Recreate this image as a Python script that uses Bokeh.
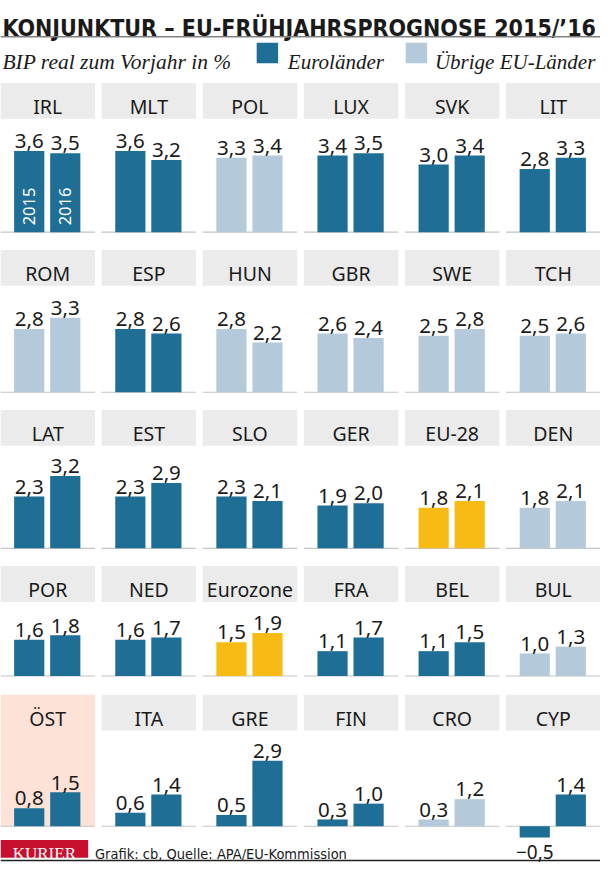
from bokeh.plotting import figure
from bokeh.models import Range1d
from bokeh.core.properties import value
from bokeh.embed import file_html
from bokeh.resources import INLINE

# ---------------- data ----------------
countries = ["IRL", "MLT", "POL", "LUX", "SVK", "LIT",
             "ROM", "ESP", "HUN", "GBR", "SWE", "TCH",
             "LAT", "EST", "SLO", "GER", "EU-28", "DEN",
             "POR", "NED", "Eurozone", "FRA", "BEL", "BUL",
             "ÖST", "ITA", "GRE", "FIN", "CRO", "CYP"]
gdp_2015 = [3.6, 3.6, 3.3, 3.4, 3.0, 2.8,
            2.8, 2.8, 2.8, 2.6, 2.5, 2.5,
            2.3, 2.3, 2.3, 1.9, 1.8, 1.8,
            1.6, 1.6, 1.5, 1.1, 1.1, 1.0,
            0.8, 0.6, 0.5, 0.3, 0.3, -0.5]
gdp_2016 = [3.5, 3.2, 3.4, 3.5, 3.4, 3.3,
            3.3, 2.6, 2.2, 2.4, 2.8, 2.6,
            3.2, 2.9, 2.1, 2.0, 2.1, 2.1,
            1.8, 1.7, 1.9, 1.7, 1.5, 1.3,
            1.5, 1.4, 2.9, 1.0, 1.2, 1.4]
groups = ["euro", "euro", "other", "euro", "euro", "euro",
          "other", "euro", "other", "other", "other", "other",
          "euro", "euro", "euro", "euro", "agg", "other",
          "euro", "euro", "agg", "euro", "euro", "other",
          "euro", "euro", "euro", "euro", "other", "euro"]
years = ["2015", "2016"]
highlight = "ÖST"

title = "KONJUNKTUR – EU-FRÜHJAHRSPROGNOSE 2015/’16"
subtitle = "BIP real zum Vorjahr in %"
legend_labels = ["Euroländer", "Übrige EU-Länder"]
source_text = "Grafik: cb, Quelle: APA/EU-Kommission"
brand = "KURIER"

# ---------------- style / layout ----------------
COLORS = {"euro": "#1f6e96", "other": "#b4c9da", "agg": "#f8bb13"}
HEADER_BG = "#ebebeb"
HIGHLIGHT_BG = "#fde2d8"
TEXT = "#1a1a1a"
SANS = "Noto Sans"
COND = "DejaVu Sans Condensed"
SERIF = "Liberation Serif"

W_REF, H_REF = 616, 881
NCOL = 6
COL_PITCH = 103.8
CELL_W = 97
HEADER_TOP = [84, 254, 417, 576, 707]
HEADER_H = 36.5
BASELINE = [236, 399, 558, 688, 841]
PX_PER_UNIT = 23.0
BAR_W = 31
BAR_OFF = [29.5, 66.5]

p = figure(width=600, height=865, x_range=Range1d(0, W_REF),
           y_range=Range1d(H_REF, 0), output_backend="svg",
           toolbar_location=None, min_border=0)
p.axis.visible = False
p.grid.visible = False
p.outline_line_color = None
p.background_fill_color = "white"
p.border_fill_color = "white"

hx0, hx1, hy0, hy1 = [], [], [], []
cx, cy = [], []
bl_x0, bl_x1, bl_y = [], [], []
bars = {"l": [], "r": [], "t": [], "b": [], "c": []}
lab = {"x": [], "y": [], "t": []}
nlab = {"x": [], "y": [], "t": []}
hl = {"l": [], "r": [], "t": [], "b": []}


def fmt(v):
    s = f"{abs(v):.1f}".replace(".", ",")
    return ("−" + s) if v < 0 else s


for i, c in enumerate(countries):
    r, k = divmod(i, NCOL)
    x0 = k * COL_PITCH
    base = BASELINE[r]
    htop = HEADER_TOP[r]
    if c == highlight:
        hl["l"].append(x0); hl["r"].append(x0 + CELL_W)
        hl["t"].append(htop); hl["b"].append(base)
    else:
        hx0.append(x0); hx1.append(x0 + CELL_W)
        hy0.append(htop); hy1.append(htop + HEADER_H)
    cx.append(x0 + CELL_W / 2)
    cy.append(htop + 24)
    bl_x0.append(x0); bl_x1.append(x0 + CELL_W); bl_y.append(base)
    for j, v in enumerate([gdp_2015[i], gdp_2016[i]]):
        xc = x0 + BAR_OFF[j]
        top = base - v * PX_PER_UNIT
        bars["l"].append(xc - BAR_W / 2); bars["r"].append(xc + BAR_W / 2)
        bars["t"].append(min(top, base)); bars["b"].append(max(top, base))
        bars["c"].append(COLORS[groups[i]])
        if v >= 0:
            lab["x"].append(xc); lab["y"].append(top - 10); lab["t"].append(fmt(v))
        else:
            nlab["x"].append(xc); nlab["y"].append(top + 14.5); nlab["t"].append(fmt(v))

p.quad(left=hl["l"], right=hl["r"], top=hl["t"], bottom=hl["b"],
       fill_color=HIGHLIGHT_BG, line_color=None)
p.quad(left=hx0, right=hx1, top=hy0, bottom=hy1, fill_color=HEADER_BG, line_color=None)
p.text(x=cx, y=cy, text=countries, text_align="center", text_baseline="alphabetic",
       text_font=value(SANS), text_font_size="19.5px", text_color=TEXT)
p.segment(x0=bl_x0, x1=bl_x1, y0=bl_y, y1=bl_y, line_color="#c4c4c4", line_width=1.2)
p.quad(left=bars["l"], right=bars["r"], top=bars["t"], bottom=bars["b"],
       fill_color=bars["c"], line_color=None)
p.text(x=lab["x"], y=lab["y"], text=lab["t"], text_align="center",
       text_baseline="alphabetic", text_font=value(SANS), text_font_size="20.5px",
       text_color=TEXT)
p.text(x=nlab["x"], y=nlab["y"], text=nlab["t"], text_align="center",
       text_baseline="alphabetic", text_font=value(SANS), text_font_size="19px",
       text_color=TEXT)

# year labels inside the first cell's bars
yx = [BAR_OFF[0], BAR_OFF[1]]
yy = [BASELINE[0] - 7, BASELINE[0] - 7]
p.text(x=yx, y=yy, text=years, angle=1.5708, text_align="left", text_baseline="middle",
       text_font=value(SANS), text_font_size="16.5px", text_color="white")

# title
p.text(x=[2], y=[27.5], text=[title], text_baseline="alphabetic", text_align="left",
       text_font=value(COND), text_font_style="bold", text_font_size="23px",
       text_color=TEXT)
p.segment(x0=[0], x1=[W_REF], y0=[37], y1=[37], line_color="#808080", line_width=1.5)

# subtitle + legend
p.text(x=[2], y=[63], text=[subtitle], text_baseline="alphabetic",
       text_font=value(SERIF), text_font_style="italic", text_font_size="21.5px",
       text_color=TEXT)
p.quad(left=[263, 416], right=[285, 438], top=[43, 43], bottom=[64, 64],
       fill_color=[COLORS["euro"], COLORS["other"]], line_color=None)
p.text(x=[295, 446], y=[63, 63], text=legend_labels, text_baseline="alphabetic",
       text_font=value(SERIF), text_font_style="italic", text_font_size="21px",
       text_color=TEXT)

# footer
p.quad(left=[0], right=[90], top=[855], bottom=[873], fill_color="#c8102e", line_color=None)
p.text(x=[45], y=[869], text=[brand], text_align="center", text_baseline="alphabetic",
       text_font=value(SERIF), text_font_size="17px", text_color="white")
p.text(x=[97], y=[869], text=[source_text], text_baseline="alphabetic",
       text_font=value(COND), text_font_size="14.5px", text_color=TEXT)
p.segment(x0=[0], x1=[W_REF], y0=[876], y1=[876], line_color="#222222", line_width=1.5)

open("out.html", "w").write(file_html(p, INLINE))
